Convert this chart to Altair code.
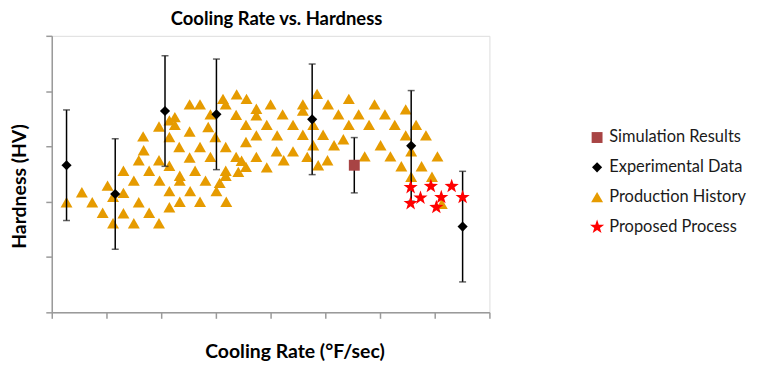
import altair as alt
import pandas as pd

# ---------------- data ----------------
prod_x = [2.7, 5.5, 7.4, 9.3, 10.2, 11.2, 13.1, 11.2, 13.1, 15.0, 15.9, 17.8, 19.6, 13.1, 15.0,
          15.9, 16.8, 16.7, 17.8, 19.6, 19.6, 19.7, 25.2, 27.1, 31.3, 31.8, 33.8, 35.6, 22.5, 21.5,
          22.5, 29.0, 33.7, 37.4, 37.4, 40.0, 28.6, 35.5, 39.3, 25.2, 21.5, 29.9, 37.4, 35.5, 23.3,
          27.1, 31.8, 25.2, 29.0, 33.7, 37.4, 34.7, 35.5, 21.5, 26.2, 31.8, 34.1, 39.3, 23.4, 23.4,
          28.1, 31.8, 30.7, 21.5, 25.3, 30.1, 23.4, 27.1, 31.9, 21.5, 42.2, 44.1, 45.9, 45.9, 48.5,
          50.5, 54.3, 52.4, 56.1, 47.8, 54.3, 58.0, 41.2, 45.9, 49.6, 53.3, 51.6, 47.8, 41.1, 44.1,
          42.4, 46.7, 50.4, 48.7, 57.2, 59.0, 60.9, 64.7, 62.7, 66.6, 64.7, 68.4, 60.1, 65.7, 61.9,
          70.5, 63.9, 67.6, 65.7, 69.5, 71.3]
prod_y = [199, 217, 199, 180, 229, 209, 216, 161, 179, 161, 199, 180, 161, 256, 238,
          275, 293, 318, 256, 336, 275, 238, 376, 376, 386, 376, 394, 386, 353, 347,
          339, 358, 357, 368, 356, 376, 335, 339, 339, 327, 317, 317, 320, 308, 299,
          299, 299, 280, 281, 281, 281, 274, 263, 265, 256, 256, 254, 262, 247, 238,
          238, 247, 234, 219, 219, 219, 200, 200, 200, 190, 358, 339, 376, 365, 395,
          376, 386, 358, 358, 339, 339, 339, 320, 321, 321, 313, 302, 302, 291, 291,
          275, 281, 275, 266, 282, 376, 358, 367, 339, 339, 320, 320, 302, 291, 282,
          282, 264, 264, 245, 245, 196]

exp_x = [2.7, 11.6, 20.7, 30.1, 47.6, 65.7, 75.1]
exp_y = [266, 214, 364, 358, 349, 301, 155]
exp_err = [100, 100, 100, 100, 100, 100, 100]

sim_x = [55.3]
sim_y = [266]
sim_err = [50]

prop_x = [65.6, 69.3, 73.1, 67.4, 71.2, 75.1, 65.6, 70.3]
prop_y = [226, 228, 228, 207, 208, 208, 197, 190]

series_names = ["Simulation Results", "Experimental Data", "Production History", "Proposed Process"]
x_ticks = [0, 10, 20, 30, 40, 50, 60, 70, 80]
y_ticks = [0, 100, 200, 300, 400, 500]

# ---------------- styling ----------------
SQUARE = "M-0.73,-0.73L0.73,-0.73L0.73,0.73L-0.73,0.73Z"
DIAMOND = "M0,-0.68L0.68,0L0,0.68L-0.68,0Z"
TRIANGLE = "M0,-0.7L0.8,0.69L-0.8,0.69Z"
STAR = ("M0,-1L0.235,-0.324L0.951,-0.309L0.38,0.124L0.588,0.809L0,0.4"
        "L-0.588,0.809L-0.38,0.124L-0.951,-0.309L-0.235,-0.324Z")
series_colors = ["#A84444", "#000000", "#E69B00", "#FF0000"]
series_shapes = [SQUARE, DIAMOND, TRIANGLE, STAR]
MARK_SIZE = 225
FONT = "Lato"
AXIS_GREY = "#9a9a9a"

# ---------------- tables ----------------
prod = pd.DataFrame({"x": prod_x, "y": prod_y, "series": "Production History"})
exp = pd.DataFrame({"x": exp_x, "y": exp_y, "series": "Experimental Data"})
sim = pd.DataFrame({"x": sim_x, "y": sim_y, "series": "Simulation Results"})
prop = pd.DataFrame({"x": prop_x, "y": prop_y, "series": "Proposed Process"})
top_pts = pd.concat([exp, sim, prop], ignore_index=True)

err = pd.DataFrame({
    "x": exp_x + sim_x,
    "lo": [v - e for v, e in zip(exp_y + sim_y, exp_err + sim_err)],
    "hi": [v + e for v, e in zip(exp_y + sim_y, exp_err + sim_err)],
})

legend = alt.Legend(
    title=None, orient="none", legendX=540, legendY=94,
    labelFont=FONT, labelFontSize=16.5, labelColor="#1a1a1a",
    symbolStrokeWidth=0, symbolSize=MARK_SIZE, rowPadding=13, labelOffset=4,
    labelLimit=300,
)

x_enc = alt.X("x:Q", scale=alt.Scale(domain=[0, 80], nice=False, zero=False),
              axis=alt.Axis(values=x_ticks, labels=False, grid=False, tickSize=6,
                            domainColor=AXIS_GREY, tickColor=AXIS_GREY,
                            domainWidth=1.5, tickWidth=1.5,
                            title="Cooling Rate (°F/sec)", titleFont=FONT,
                            titleFontSize=19.5, titleFontWeight="bold", titleColor="#000",
                            titleX=244, titleY=39, titleAlign="center",
                            titleBaseline="middle"))
y_enc = alt.Y("y:Q", scale=alt.Scale(domain=[0, 500], nice=False, zero=False),
              axis=alt.Axis(values=y_ticks, labels=False, grid=False, tickSize=6,
                            domainColor=AXIS_GREY, tickColor=AXIS_GREY,
                            domainWidth=1.5, tickWidth=1.5,
                            title="Hardness (HV)", titleFont=FONT,
                            titleFontSize=19.5, titleFontWeight="bold", titleColor="#000",
                            titleX=-32, titleY=151, titleAngle=270,
                            titleAlign="center", titleBaseline="middle"))

color_enc = alt.Color("series:N", scale=alt.Scale(domain=series_names, range=series_colors),
                      legend=legend)
shape_enc = alt.Shape("series:N", scale=alt.Scale(domain=series_names, range=series_shapes),
                      legend=legend)

prod_layer = alt.Chart(prod).mark_point(filled=True, opacity=1, strokeWidth=0,
                                        size=MARK_SIZE).encode(
    x=x_enc, y=y_enc, color=color_enc, shape=shape_enc)

bars = alt.Chart(err).mark_rule(color="#000", strokeWidth=1.5).encode(
    x="x:Q", y="lo:Q", y2="hi:Q")
caps_lo = alt.Chart(err).mark_tick(color="#222", thickness=1.5, size=7,
                                   orient="horizontal").encode(x="x:Q", y="lo:Q")
caps_hi = alt.Chart(err).mark_tick(color="#222", thickness=1.5, size=7,
                                   orient="horizontal").encode(x="x:Q", y="hi:Q")

top_layer = alt.Chart(top_pts).mark_point(filled=True, opacity=1, strokeWidth=0,
                                          size=MARK_SIZE).encode(
    x="x:Q", y="y:Q", color=color_enc, shape=shape_enc)

chart = alt.layer(prod_layer, bars, caps_lo, caps_hi, top_layer).properties(
    width=440, height=278,
    title=alt.TitleParams("Cooling Rate vs. Hardness", font=FONT, fontSize=18.5,
                          fontWeight="bold", color="#000", anchor="middle",
                          baseline="middle", offset=17, dx=6, dy=19),
    autosize=alt.AutoSizeParams(type="none"),
    padding={"left": 44, "top": 27, "right": 265, "bottom": 56},
).configure_view(stroke=None).configure(background="white")

chart.save("out.html", embed_options={"renderer": "svg", "actions": False})
